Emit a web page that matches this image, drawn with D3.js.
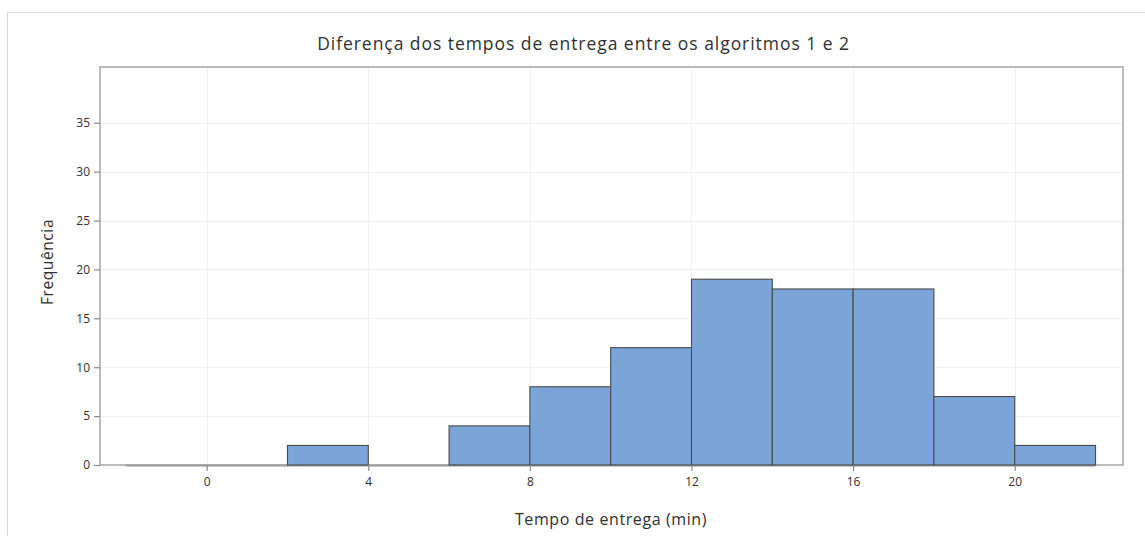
<!DOCTYPE html>
<html>
<head>
<meta charset="utf-8">
<script src="https://cdn.jsdelivr.net/npm/d3@7"></script>
<style>
  html, body { margin: 0; padding: 0; background: #fff; }
  svg { display: block; }
  text { font-family: "Open Sans", "Noto Sans", sans-serif; fill: #303030; }
</style>
</head>
<body>
<svg id="chart" width="1145" height="536"></svg>
<script>
// Histogram bins (min): lower edges, upper edges and counts
const binStart = [-2, 0, 2, 4, 6, 8, 10, 12, 14, 16, 18, 20];
const binEnd   = [0, 2, 4, 6, 8, 10, 12, 14, 16, 18, 20, 22];
const counts   = [0, 0, 2, 0, 4, 8, 12, 19, 18, 18, 7, 2];
const xTicks = [0, 4, 8, 12, 16, 20];
const yTicks = [0, 5, 10, 15, 20, 25, 30, 35];

const titleText = "Diferença dos tempos de entrega entre os algoritmos 1 e 2";
const xLabel = "Tempo de entrega (min)";
const yLabel = "Frequência";

const svg = d3.select("#chart");
const W = 1145, H = 536;
const plot = { left: 100, top: 67, right: 1123, bottom: 465 };

// outer panel border
svg.append("rect")
  .attr("x", 7.5).attr("y", 12.5)
  .attr("width", W + 10).attr("height", H + 10)
  .attr("fill", "#fff").attr("stroke", "#d9d9d9").attr("stroke-width", 1);

const x = d3.scaleLinear().domain([-2.64, 22.68]).range([plot.left, plot.right]);
const y = d3.scaleLinear().domain([0, 40.7]).range([plot.bottom, plot.top]);

// grid lines
const grid = svg.append("g").attr("stroke", "#f0f0f0").attr("stroke-width", 1);
grid.selectAll(".gx").data(xTicks).join("line")
  .attr("x1", d => Math.round(x(d)) + 0.5).attr("x2", d => Math.round(x(d)) + 0.5)
  .attr("y1", plot.top).attr("y2", plot.bottom);
grid.selectAll(".gy").data(yTicks.filter(d => d > 0)).join("line")
  .attr("y1", d => Math.round(y(d)) + 0.5).attr("y2", d => Math.round(y(d)) + 0.5)
  .attr("x1", plot.left).attr("x2", plot.right);

// plot frame
svg.append("rect")
  .attr("x", plot.left).attr("y", plot.top)
  .attr("width", plot.right - plot.left).attr("height", plot.bottom - plot.top)
  .attr("fill", "none").attr("stroke", "#a6a6a6").attr("stroke-width", 1.5);

const bins = binStart.map((s, i) => ({ s, e: binEnd[i], c: counts[i] }));

// histogram baseline under all bins (empty bins appear as this flat outline)
svg.append("g").selectAll("line").data(bins).join("line")
  .attr("x1", d => x(d.s)).attr("x2", d => x(d.e))
  .attr("y1", y(0) + 0.5).attr("y2", y(0) + 0.5)
  .attr("stroke", "#9a9a9a").attr("stroke-width", 2.2);

// bars
svg.append("g").selectAll("rect").data(bins.filter(d => d.c > 0)).join("rect")
  .attr("x", d => x(d.s))
  .attr("width", d => x(d.e) - x(d.s))
  .attr("y", d => y(d.c))
  .attr("height", d => y(0) - y(d.c))
  .attr("fill", "#7ba5d8")
  .attr("stroke", "#4a4a4a")
  .attr("stroke-width", 1.1);

// axes
const xAxis = d3.axisBottom(x).tickValues(xTicks).tickSize(6).tickPadding(6);
const gx = svg.append("g").attr("transform", `translate(0,${plot.bottom})`).call(xAxis);
const yAxis = d3.axisLeft(y).tickValues(yTicks).tickSize(6).tickPadding(4);
const gy = svg.append("g").attr("transform", `translate(${plot.left},0)`).call(yAxis);
[gx, gy].forEach(g => {
  g.select(".domain").remove();
  g.selectAll(".tick line").attr("stroke", "#8a8a8a").attr("stroke-width", 1.2);
  g.selectAll(".tick text").attr("font-size", 12).attr("fill", "#303030")
    .style("font-family", '"Open Sans", "Noto Sans", sans-serif');
});

// title and axis labels
svg.append("text")
  .attr("x", 583.5).attr("y", 50)
  .attr("text-anchor", "middle").attr("font-size", 17.5)
  .attr("letter-spacing", 0.95)
  .text(titleText);

svg.append("text")
  .attr("x", 611).attr("y", 525)
  .attr("text-anchor", "middle").attr("font-size", 16)
  .attr("letter-spacing", 0.6)
  .text(xLabel);

svg.append("text")
  .attr("transform", "translate(53,262) rotate(-90)")
  .attr("text-anchor", "middle").attr("font-size", 15.5)
  .attr("letter-spacing", 0.6)
  .text(yLabel);
</script>
</body>
</html>
